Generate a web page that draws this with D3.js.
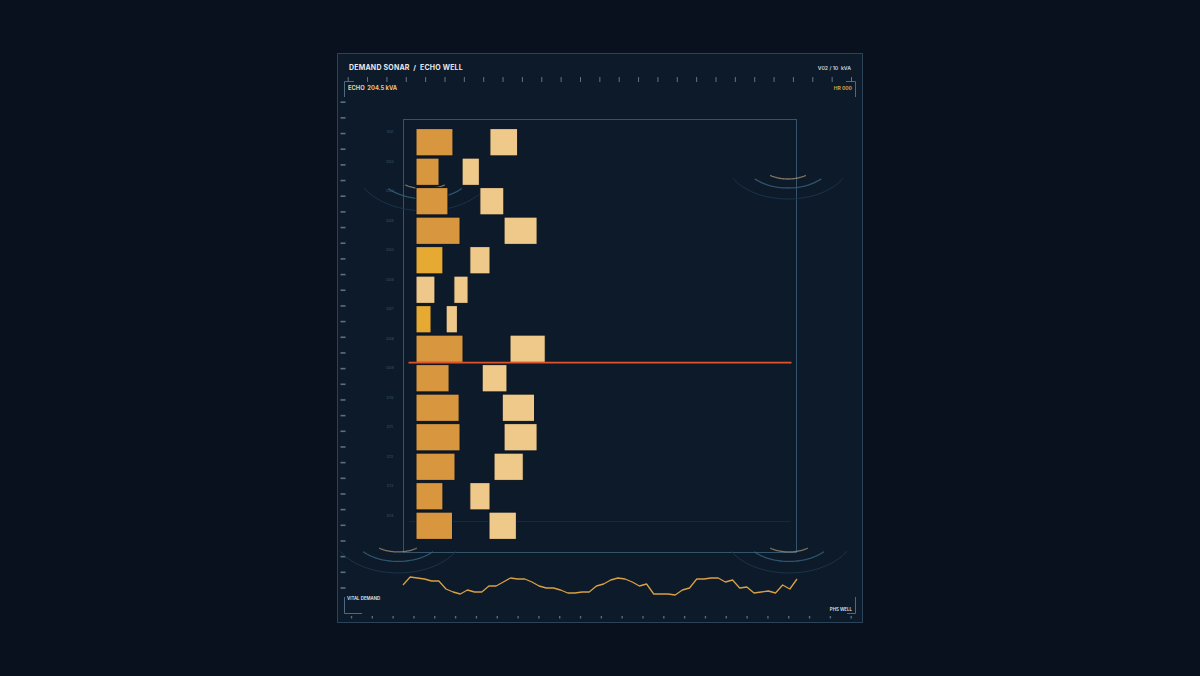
<!DOCTYPE html>
<html><head><meta charset="utf-8">
<script src="https://cdn.jsdelivr.net/npm/d3@7"></script>
<style>
html,body{margin:0;padding:0;background:#0a111e;}
svg{display:block;font-family:Inter,"DejaVu Sans",sans-serif;}
</style></head>
<body><svg id="c" width="1200" height="676"></svg>
<script>
// ---- data ----
const rows = ["D01","D02","D03","D04","D05","D06","D07","D08","D09","D10","D11","D12","D13","D14"];
const demand = [16.2,10.1,14.0,19.3,11.8,8.3,6.6,20.6,14.5,18.9,19.3,17.1,11.8,16.0];
const rowState = ["n","n","n","n","hi","lo","hi","n","n","n","n","n","n","n"];
const vital = [15,23,22,21,19,19,11,8,6,10,8,8,14,14,18,22,21,21,18,14,12,12,10,7,7,8,8,14,
               16,20,22,21,18,14,16,6,6,6,5,10,12,21,21,22,22,18,20,12,13,7,8,9,7,15,11,21];
const titleText = "DEMAND SONAR  /  ECHO WELL";
const scaleText = "V02 / 10  kVA";
const echoLabel = "ECHO";
const hrText = "HR 000";
const vitalLabel = "VITAL DEMAND";
const wellLabel = "PHS WELL";
const topTickCount = 27, leftTickCount = 32, bottomTickCount = 25;

// ---- layout ----
const svg = d3.select("#c");
const panel = {x0:337.5, y0:53.5, x1:862.5, y1:622.5};
const frame = {x0:403.5, y0:119.5, x1:796.5, y1:552.5};

svg.append("rect").attr("width",1200).attr("height",676).attr("fill","#0a111e");
svg.append("rect").attr("x",panel.x0).attr("y",panel.y0)
  .attr("width",panel.x1-panel.x0).attr("height",panel.y1-panel.y0)
  .attr("fill","#0d1a2a").attr("stroke","#2b4257").attr("stroke-width",1);

// header
svg.append("text").attr("x",349).attr("y",69.5).text(titleText).attr("xml:space","preserve")
  .style("white-space","pre")
  .attr("fill","#e3e9ef").attr("font-size",7).attr("font-weight",700).attr("letter-spacing",0.2);
svg.append("text").attr("x",851).attr("y",70).attr("text-anchor","end").text(scaleText)
  .style("white-space","pre")
  .attr("fill","#cfd8e0").attr("font-size",5.2).attr("font-weight",600);
const total = d3.sum(demand);
const echoT = svg.append("text").attr("x",348).attr("y",90).attr("font-size",5.8).attr("font-weight",700)
  .style("white-space","pre");
echoT.append("tspan").text(echoLabel+"  ").attr("fill","#f0d49a");
echoT.append("tspan").text(total.toFixed(1)+" kVA").attr("fill","#e8c27c");
svg.append("text").attr("x",852).attr("y",90).attr("text-anchor","end").text(hrText)
  .attr("fill","#d9a043").attr("font-size",5).attr("font-weight",700);

// corner brackets
const br = svg.append("g").attr("fill","none").attr("stroke","#4d6a80").attr("stroke-width",1);
br.append("path").attr("d","M354,81.5H344.5V97");
br.append("path").attr("d","M846,81.5H855.5V97");
br.append("path").attr("d","M344.5,597V613.5H362");
br.append("path").attr("d","M855.5,597V613.5H847");

svg.append("text").attr("x",347).attr("y",599.5).text(vitalLabel)
  .attr("fill","#dfe6ee").attr("font-size",4.4).attr("font-weight",600);
svg.append("text").attr("x",852).attr("y",610.5).attr("text-anchor","end").text(wellLabel)
  .attr("fill","#dfe6ee").attr("font-size",4.4).attr("font-weight",600);

// tick rulers
const tickStyle = g => { g.select(".domain").remove(); g.selectAll("text").remove();
  g.selectAll("line").attr("stroke","#5f7689"); };
const xTop = d3.scaleLinear().domain([0,topTickCount-1]).range([347.7,851]);
svg.append("g").attr("transform","translate(0,82)")
  .call(d3.axisTop(xTop).tickValues(d3.range(topTickCount)).tickSize(5))
  .call(tickStyle);
const yLeft = d3.scaleLinear().domain([0,leftTickCount-1]).range([101.7,587.5]);
svg.append("g").attr("transform","translate(345.5,0)")
  .call(d3.axisLeft(yLeft).tickValues(d3.range(leftTickCount)).tickSize(5))
  .call(tickStyle).selectAll("line").attr("stroke-width",1.6).attr("stroke","#5a6f82");
const xBot = d3.scaleLinear().domain([0,bottomTickCount-1]).range([351,850.7]);
svg.append("g").attr("transform","translate(0,616)")
  .call(d3.axisBottom(xBot).tickValues(d3.range(bottomTickCount)).tickSize(2.5))
  .call(tickStyle).selectAll("line").attr("stroke-width",1.4).attr("stroke","#566c80");

// inner frame
svg.append("rect").attr("x",frame.x0).attr("y",frame.y0)
  .attr("width",frame.x1-frame.x0).attr("height",frame.y1-frame.y0)
  .attr("fill","none").attr("stroke","#33546b").attr("stroke-width",1);
svg.append("line").attr("x1",frame.x0+6).attr("x2",frame.x1-6).attr("y1",521.5).attr("y2",521.5)
  .attr("stroke","#172a3c").attr("stroke-width",1);

// sonar rings
function sonar(cx, cy, s, specs){
  const g = svg.append("g").attr("fill","none");
  specs.forEach(sp => {
    const pts = d3.range(-sp.a, sp.a+0.001, sp.a/20).map(t => {
      const r = t*Math.PI/180;
      return [cx + 1.6*sp.ry*s*Math.sin(r), cy + sp.ry*s*Math.cos(r)];
    });
    g.append("path").attr("d", d3.line()(pts)).attr("stroke", sp.c)
      .attr("stroke-width", sp.w).attr("opacity", sp.o);
  });
}
const ringSpec = [
  {ry:39, a:62, c:"#1d364c", w:1, o:0.9},
  {ry:28, a:48, c:"#365f7a", w:1.3, o:0.85},
  {ry:19, a:36, c:"#9c8b70", w:1.3, o:0.8}
];
sonar(425,168,1.1,ringSpec);
sonar(788,160,1,ringSpec);
sonar(398,532,1.05,ringSpec);
sonar(789,532,1.05,ringSpec);

// scales
const x = d3.scaleLinear().domain([0,167]).range([416,797]);
const y = d3.scaleBand().domain(rows).range([128,540]).paddingInner(0.075).paddingOuter(0.02);
const barColor = {n:"#d8973f", hi:"#e6a932", lo:"#eec78a"};

// row labels
svg.append("g").selectAll("text").data(rows).join("text")
  .attr("x",390).attr("y",r => y(r)+4.5).attr("text-anchor","middle")
  .text(r => r).attr("fill","#3f5468").attr("font-size",3.8);

// echo boxes
svg.append("g").selectAll("rect").data(demand).join("rect")
  .attr("x",d => x(2*d)).attr("width",d => x(2.75*d)-x(2*d))
  .attr("y",(d,i) => y(rows[i])).attr("height",y.bandwidth())
  .attr("fill","#eec98a").attr("stroke","#0b1422").attr("stroke-width",1);

// demand bars
svg.append("g").selectAll("rect").data(demand).join("rect")
  .attr("x",x(0)).attr("width",d => x(d)-x(0))
  .attr("y",(d,i) => y(rows[i])).attr("height",y.bandwidth())
  .attr("fill",(d,i) => barColor[rowState[i]]).attr("stroke","#0b1422").attr("stroke-width",1);

// well marker at peak row
const peak = d3.maxIndex(demand);
const wy = y(rows[peak]) + y.bandwidth() + 0.3;
svg.append("line").attr("x1",frame.x0+5).attr("x2",frame.x1-5).attr("y1",wy).attr("y2",wy)
  .attr("stroke","#e0542b").attr("stroke-width",1.8);

// vital sparkline
const sx = d3.scaleLinear().domain([0,vital.length-1]).range([403,797]);
const sy = d3.scaleLinear().domain([0,30]).range([600,570]);
svg.append("path").datum(vital)
  .attr("d", d3.line().x((d,i)=>sx(i)).y(d=>sy(d)))
  .attr("fill","none").attr("stroke","#d9a043").attr("stroke-width",1.3).attr("stroke-linejoin","round");
</script></body></html>
